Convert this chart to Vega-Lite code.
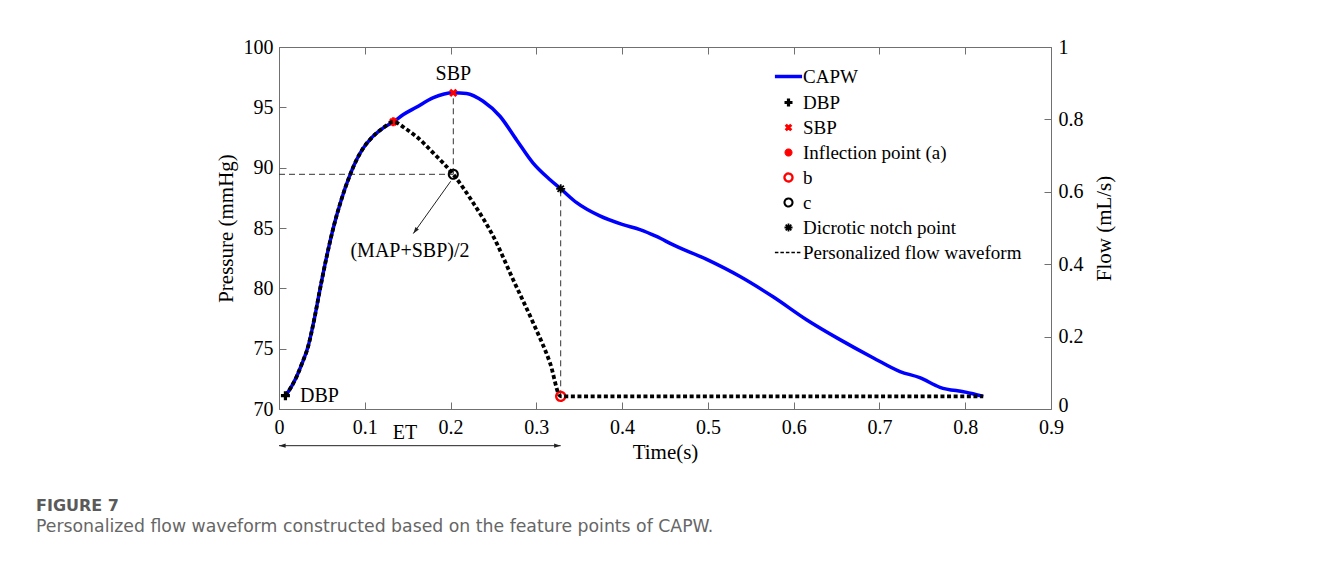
{
  "$schema": "https://vega.github.io/schema/vega-lite/v6.json",
  "width": 772,
  "height": 362,
  "autosize": {"type": "none"},
  "padding": {"left": 279, "top": 47, "right": 266, "bottom": 152},
  "background": "white",
  "config": {
    "font": "Liberation Serif",
    "view": {"stroke": "#707070", "strokeWidth": 1},
    "axis": {
      "grid": false,
      "domain": false,
      "labelFlush": false,
      "tickColor": "#707070",
      "tickSize": -7,
      "labelFont": "Liberation Serif",
      "labelFontSize": 20,
      "labelColor": "#000000",
      "titleFont": "Liberation Serif",
      "titleFontSize": 21,
      "titleFontWeight": "normal",
      "titleColor": "#000000"
    },
    "legend": {
      "labelFont": "Liberation Serif",
      "labelFontSize": 19,
      "labelColor": "#000000"
    }
  },
  "title": {
    "text": "FIGURE 7",
    "subtitle": "Personalized flow waveform constructed based on the feature points of CAPW.",
    "orient": "bottom",
    "anchor": "start",
    "frame": "group",
    "dx": -243,
    "offset": 36,
    "font": "DejaVu Sans",
    "fontSize": 16,
    "fontWeight": "bold",
    "color": "#5a5a5a",
    "subtitleFont": "DejaVu Sans",
    "subtitleFontSize": 17.3,
    "subtitleColor": "#666666",
    "subtitlePadding": 4
  },
  "datasets": {
    "capw": [
      {"t": 0.0075, "p": 71.1}, {"t": 0.014, "p": 71.8}, {"t": 0.0206, "p": 72.7},
      {"t": 0.027, "p": 73.8}, {"t": 0.034, "p": 75.2}, {"t": 0.041, "p": 77.4},
      {"t": 0.048, "p": 80.0}, {"t": 0.0555, "p": 82.6}, {"t": 0.0633, "p": 85.0},
      {"t": 0.072, "p": 87.2}, {"t": 0.083, "p": 89.45}, {"t": 0.0906, "p": 90.67},
      {"t": 0.098, "p": 91.6}, {"t": 0.106, "p": 92.33}, {"t": 0.1216, "p": 93.3},
      {"t": 0.1333, "p": 93.8}, {"t": 0.145, "p": 94.4}, {"t": 0.16, "p": 95.0},
      {"t": 0.18, "p": 95.8}, {"t": 0.2032, "p": 96.2}, {"t": 0.2187, "p": 96.15},
      {"t": 0.238, "p": 95.5}, {"t": 0.2576, "p": 94.26}, {"t": 0.277, "p": 92.3},
      {"t": 0.296, "p": 90.4}, {"t": 0.316, "p": 89.0}, {"t": 0.3284, "p": 88.25},
      {"t": 0.347, "p": 87.1}, {"t": 0.374, "p": 86.0}, {"t": 0.4, "p": 85.3},
      {"t": 0.4208, "p": 84.87}, {"t": 0.44, "p": 84.3}, {"t": 0.4597, "p": 83.6},
      {"t": 0.4986, "p": 82.4}, {"t": 0.537, "p": 81.0}, {"t": 0.576, "p": 79.3},
      {"t": 0.615, "p": 77.4}, {"t": 0.654, "p": 75.75}, {"t": 0.693, "p": 74.23},
      {"t": 0.724, "p": 73.1}, {"t": 0.747, "p": 72.6}, {"t": 0.7706, "p": 71.8},
      {"t": 0.8017, "p": 71.38}, {"t": 0.812, "p": 71.2}, {"t": 0.821, "p": 71.05}
    ],
    "flow": [
      {"t": 0.0075, "f": 0.037}, {"t": 0.014, "f": 0.06}, {"t": 0.0206, "f": 0.09},
      {"t": 0.027, "f": 0.127}, {"t": 0.034, "f": 0.173}, {"t": 0.041, "f": 0.247},
      {"t": 0.048, "f": 0.333}, {"t": 0.0555, "f": 0.42}, {"t": 0.0633, "f": 0.5},
      {"t": 0.072, "f": 0.573}, {"t": 0.083, "f": 0.648}, {"t": 0.0906, "f": 0.689},
      {"t": 0.098, "f": 0.72}, {"t": 0.106, "f": 0.744}, {"t": 0.1216, "f": 0.777},
      {"t": 0.1333, "f": 0.793}, {"t": 0.149, "f": 0.772}, {"t": 0.16, "f": 0.753},
      {"t": 0.18, "f": 0.707}, {"t": 0.2032, "f": 0.648}, {"t": 0.2265, "f": 0.569},
      {"t": 0.2498, "f": 0.477}, {"t": 0.273, "f": 0.357}, {"t": 0.2965, "f": 0.237},
      {"t": 0.316, "f": 0.127}, {"t": 0.3284, "f": 0.035}, {"t": 0.821, "f": 0.035}
    ],
    "points": [
      {"series": "DBP", "t": 0.0075, "p": 71.1},
      {"series": "SBP", "t": 0.2032, "p": 96.2},
      {"series": "Inflection point (a)", "t": 0.1333, "p": 93.8},
      {"series": "b", "t": 0.3284, "p": 71.05},
      {"series": "c", "t": 0.2032, "p": 89.45},
      {"series": "Dicrotic notch point", "t": 0.3284, "p": 88.25}
    ],
    "guides": [
      {"t": 0, "t2": 0.2032, "p": 89.45, "p2": 89.45},
      {"t": 0.2032, "t2": 0.2032, "p": 89.45, "p2": 96.2},
      {"t": 0.3284, "t2": 0.3284, "p": 71.05, "p2": 88.25}
    ],
    "arrows": [
      {"t": 0.2001, "p": 88.87, "t2": 0.1566, "p2": 84.54},
      {"t": 0.0, "p": 66.96, "t2": 0.3284, "p2": 66.96}
    ],
    "heads": [
      {"t": 0.1566, "p": 84.54, "angle": 215.6},
      {"t": 0.0, "p": 66.96, "angle": 270},
      {"t": 0.3284, "p": 66.96, "angle": 90}
    ],
    "labels": [
      {"t": 0.2032, "p": 97.74, "label": "SBP"},
      {"t": 0.1527, "p": 83.07, "label": "(MAP+SBP)/2"},
      {"t": 0.1469, "p": 68.0, "label": "ET"}
    ],
    "leftlabels": [
      {"t": 0.0245, "p": 71.05, "label": "DBP"}
    ]
  },
  "layer": [
    {
      "encoding": {
        "x": {
          "field": "t", "type": "quantitative",
          "scale": {"domain": [0, 0.9], "nice": false, "zero": false},
          "axis": {
            "orient": "bottom", "title": "Time(s)",
            "values": [0, 0.1, 0.2, 0.3, 0.4, 0.5, 0.6, 0.7, 0.8, 0.9],
            "format": ".1~f", "labelPadding": 15, "titlePadding": 4
          }
        },
        "y": {
          "field": "p", "type": "quantitative",
          "scale": {"domain": [70, 100], "nice": false, "zero": false},
          "axis": {
            "orient": "left", "title": "Pressure (mmHg)",
            "values": [70, 75, 80, 85, 90, 95, 100],
            "labelPadding": 13, "titlePadding": 7
          }
        }
      },
      "layer": [
        {
          "data": {"name": "capw"},
          "mark": {"type": "line", "color": "#0000ff", "strokeWidth": 3.5, "interpolate": "monotone"}
        },
        {
          "data": {"name": "guides"},
          "mark": {"type": "rule", "color": "#333333", "strokeWidth": 1, "strokeDash": [6, 4]},
          "encoding": {
            "x2": {"field": "t2"},
            "y2": {"field": "p2"}
          }
        },
        {
          "data": {"name": "arrows"},
          "mark": {"type": "rule", "color": "#222222", "strokeWidth": 1},
          "encoding": {
            "x2": {"field": "t2"},
            "y2": {"field": "p2"}
          }
        },
        {
          "data": {"name": "heads"},
          "mark": {"type": "point", "shape": "M0,0L-0.7,2.2L0.7,2.2Z", "filled": true, "color": "#222222", "size": 36, "opacity": 1},
          "encoding": {
            "angle": {"field": "angle", "type": "quantitative", "scale": null}
          }
        },
        {
          "data": {"name": "labels"},
          "mark": {"type": "text", "font": "Liberation Serif", "fontSize": 20, "color": "#000000", "baseline": "middle", "align": "center"},
          "encoding": {
            "text": {"field": "label"}
          }
        },
        {
          "data": {"name": "leftlabels"},
          "mark": {"type": "text", "font": "Liberation Serif", "fontSize": 20, "color": "#000000", "baseline": "middle", "align": "left"},
          "encoding": {
            "text": {"field": "label"}
          }
        },
        {
          "data": {"name": "points"},
          "mark": {"type": "point", "filled": false, "size": 81, "opacity": 1},
          "encoding": {
            "color": {
              "field": "series", "type": "nominal",
              "scale": {
                "domain": ["CAPW", "DBP", "SBP", "Inflection point (a)", "b", "c", "Dicrotic notch point", "Personalized flow waveform"],
                "range": ["#0000ff", "#000000", "#ff0000", "#ff0000", "#ff0000", "#000000", "#000000", "#000000"]
              },
              "legend": {
                "orient": "none", "legendX": 500, "legendY": 20, "title": null,
                "padding": 0, "symbolSize": 64, "labelOffset": 5, "rowPadding": 5,
                "symbolOpacity": 1, "labelLimit": 0
              }
            },
            "shape": {
              "field": "series", "type": "nominal",
              "scale": {
                "domain": ["CAPW", "DBP", "SBP", "Inflection point (a)", "b", "c", "Dicrotic notch point", "Personalized flow waveform"],
                "range": [
                  "M-3.4,0L3.4,0",
                  "M-1,0L1,0M0,-1L0,1",
                  "M-0.7,-0.7L0.7,0.7M-0.7,0.7L0.7,-0.7",
                  "M-1,0L1,0M0,-1L0,1M-0.7,-0.7L0.7,0.7M-0.7,0.7L0.7,-0.7",
                  "circle",
                  "circle",
                  "M-1,0L1,0M0,-1L0,1M-0.7,-0.7L0.7,0.7M-0.7,0.7L0.7,-0.7",
                  "M-3.4,0L3.4,0"
                ]
              }
            },
            "strokeWidth": {
              "field": "series", "type": "nominal",
              "scale": {
                "domain": ["CAPW", "DBP", "SBP", "Inflection point (a)", "b", "c", "Dicrotic notch point", "Personalized flow waveform"],
                "range": [3.5, 1.5, 1.5, 1.8, 1.5, 1.5, 1.8, 3]
              }
            },
            "strokeDash": {
              "field": "series", "type": "nominal",
              "scale": {
                "domain": ["CAPW", "DBP", "SBP", "Inflection point (a)", "b", "c", "Dicrotic notch point", "Personalized flow waveform"],
                "range": [[1, 0], [1, 0], [1, 0], [1, 0], [1, 0], [1, 0], [1, 0], [3.5, 2]]
              }
            }
          }
        }
      ]
    },
    {
      "data": {"name": "flow"},
      "mark": {"type": "line", "color": "#000000", "strokeWidth": 3.8, "strokeDash": [4, 2.6], "interpolate": "monotone"},
      "encoding": {
        "x": {
          "field": "t", "type": "quantitative",
          "scale": {"domain": [0, 0.9], "nice": false, "zero": false},
          "axis": {"orient": "top", "labels": false, "title": null, "values": [0, 0.1, 0.2, 0.3, 0.4, 0.5, 0.6, 0.7, 0.8, 0.9]}
        },
        "y": {
          "field": "f", "type": "quantitative",
          "scale": {"domain": [0, 1], "nice": false, "zero": false},
          "axis": {
            "orient": "right", "title": "Flow (mL/s)",
            "values": [0, 0.2, 0.4, 0.6, 0.8, 1], "format": ".1~f",
            "labelPadding": 14, "titlePadding": 10, "titleAngle": -90, "titleBaseline": "top",
            "labelOffset": {"condition": {"test": "datum.value === 0", "value": -4}, "value": 0}
          }
        }
      }
    }
  ],
  "resolve": {"scale": {"y": "independent"}, "axis": {"x": "independent"}}
}
